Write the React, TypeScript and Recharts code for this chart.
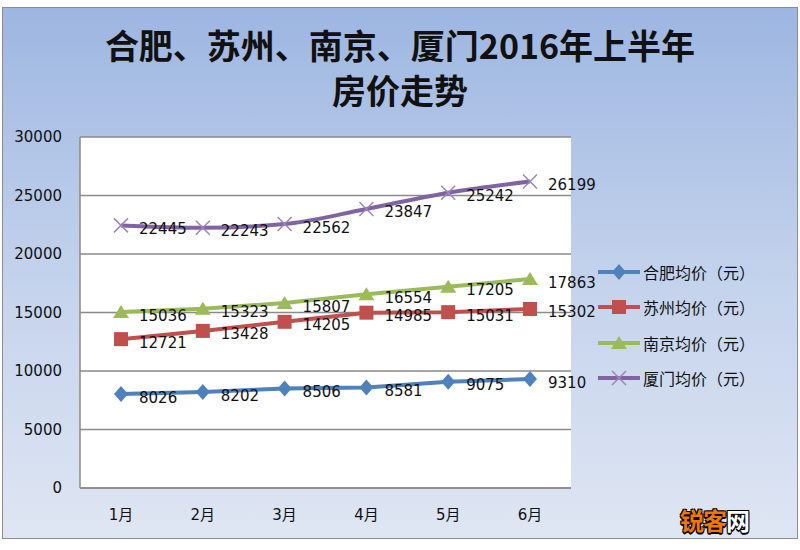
import { LineChart, Line, XAxis, YAxis, CartesianGrid, Legend, LabelList } from 'recharts';

// 2016 上半年房价（元/平方米）
const months = ['1月', '2月', '3月', '4月', '5月', '6月'];
const hefei = [8026, 8202, 8506, 8581, 9075, 9310];
const suzhou = [12721, 13428, 14205, 14985, 15031, 15302];
const nanjing = [15036, 15323, 15807, 16554, 17205, 17863];
const xiamen = [22445, 22243, 22562, 23847, 25242, 26199];
const seriesNames = ['合肥均价（元）', '苏州均价（元）', '南京均价（元）', '厦门均价（元）'];
const yTicks = [0, 5000, 10000, 15000, 20000, 25000, 30000];

const data = months.map((m, i) => ({
  month: m,
  hefei: hefei[i],
  suzhou: suzhou[i],
  nanjing: nanjing[i],
  xiamen: xiamen[i],
}));

const BLUE = '#4f81bd';
const RED = '#c0504d';
const GREEN = '#9bbb59';
const PURPLE = '#8064a2';

const numFont = '"DejaVu Sans", "Noto Sans CJK SC", sans-serif';
const cjkFont = '"Noto Sans CJK SC", "DejaVu Sans", sans-serif';

// marker shapes
const marker = (kind: string, cx: number, cy: number, key?: string) => {
  if (kind === 'diamond')
    return <path key={key} d={`M${cx},${cy - 8}L${cx + 7},${cy}L${cx},${cy + 8}L${cx - 7},${cy}Z`} fill={BLUE} />;
  if (kind === 'square')
    return <rect key={key} x={cx - 7} y={cy - 7} width={14} height={14} fill={RED} />;
  if (kind === 'triangle')
    return <path key={key} d={`M${cx},${cy - 7}L${cx + 8},${cy + 6}L${cx - 8},${cy + 6}Z`} fill={GREEN} />;
  return (
    <path
      key={key}
      d={`M${cx - 7},${cy - 7}L${cx + 7},${cy + 7}M${cx - 7},${cy + 7}L${cx + 7},${cy - 7}`}
      stroke="#9b86bd"
      strokeWidth={1.5}
      fill="none"
    />
  );
};

const dotOf = (kind: string) => (props: any) => marker(kind, props.cx, props.cy, `${kind}-${props.index}`);

const renderLabel = (props: any) => (
  <text
    x={Number(props.x) + 18}
    y={Number(props.y) + 4}
    fontSize={15}
    fontFamily={numFont}
    fill="#111"
    dominantBaseline="middle"
  >
    {props.value}
  </text>
);

const legendItems = [
  { name: seriesNames[0], color: BLUE, kind: 'diamond' },
  { name: seriesNames[1], color: RED, kind: 'square' },
  { name: seriesNames[2], color: GREEN, kind: 'triangle' },
  { name: seriesNames[3], color: PURPLE, kind: 'x' },
];

const renderLegend = () => (
  <div>
    {legendItems.map((it) => (
      <div key={it.name} style={{ display: 'flex', alignItems: 'center', height: 35.5 }}>
        <svg width={44} height={20}>
          <line x1={0} y1={10} x2={42} y2={10} stroke={it.color} strokeWidth={4} />
          {marker(it.kind, 21, 10)}
        </svg>
        <span style={{ fontFamily: cjkFont, fontSize: 16, color: '#111', marginLeft: 1 }}>{it.name}</span>
      </div>
    ))}
  </div>
);

export default function App() {
  return (
    <div style={{ position: 'absolute', left: 0, top: 0, width: 800, height: 550, background: '#fff' }}>
      <div
        style={{
          position: 'absolute',
          left: 2,
          top: 7,
          width: 794,
          height: 530,
          border: '1px solid #8c8c8c',
          background: 'linear-gradient(to bottom, #9db6e1 0%, #c3d2ec 50%, #dfe6f3 100%)',
        }}
      />
      <div
        style={{
          position: 'absolute',
          left: 0,
          top: 22,
          width: 800,
          textAlign: 'center',
          fontFamily: cjkFont,
          fontWeight: 700,
          fontSize: 34,
          lineHeight: '45px',
          color: '#111',
        }}
      >
        <div>合肥、苏州、南京、厦门2016年上半年</div>
        <div>房价走势</div>
      </div>
      <div style={{ position: 'absolute', left: 0, top: 0 }}>
        <LineChart width={800} height={550} data={data} margin={{ top: 137, right: 229, bottom: 32, left: 20 }}>
          <CartesianGrid vertical={false} stroke="#8a8a8a" strokeWidth={1.5} fill="#ffffff" fillOpacity={1} />
          <XAxis
            dataKey="month"
            height={30}
            padding={{ left: 41, right: 41 }}
            axisLine={{ stroke: '#8a8a8a', strokeWidth: 1.5 }}
            tickLine={false}
            tickMargin={15}
            tick={{ fontSize: 15, fontFamily: numFont, fill: '#111' }}
          />
          <YAxis
            width={60}
            domain={[0, 30000]}
            ticks={yTicks}
            interval={0}
            axisLine={{ stroke: '#8a8a8a', strokeWidth: 1.5 }}
            tickLine={false}
            tickMargin={12}
            tick={{ fontSize: 15, fontFamily: numFont, fill: '#111' }}
          />
          <Legend
            layout="horizontal"
            verticalAlign="middle"
            align="center"
            content={renderLegend}
            wrapperStyle={{ position: 'absolute', left: 598, top: 254, width: 190, height: 142 }}
          />
          <Line
            dataKey="hefei"
            name={seriesNames[0]}
            type="linear"
            stroke={BLUE}
            strokeWidth={4}
            dot={dotOf('diamond')}
            isAnimationActive={false}
          >
            <LabelList dataKey="hefei" content={renderLabel} />
          </Line>
          <Line
            dataKey="suzhou"
            name={seriesNames[1]}
            type="linear"
            stroke={RED}
            strokeWidth={4}
            dot={dotOf('square')}
            isAnimationActive={false}
          >
            <LabelList dataKey="suzhou" content={renderLabel} />
          </Line>
          <Line
            dataKey="nanjing"
            name={seriesNames[2]}
            type="linear"
            stroke={GREEN}
            strokeWidth={4}
            dot={dotOf('triangle')}
            isAnimationActive={false}
          >
            <LabelList dataKey="nanjing" content={renderLabel} />
          </Line>
          <Line
            dataKey="xiamen"
            name={seriesNames[3]}
            type="monotone"
            stroke={PURPLE}
            strokeWidth={4}
            dot={dotOf('x')}
            isAnimationActive={false}
          >
            <LabelList dataKey="xiamen" content={renderLabel} />
          </Line>
        </LineChart>
      </div>
      <div
        style={{
          position: 'absolute',
          left: 680,
          top: 502,
          fontFamily: cjkFont,
          fontWeight: 700,
          fontSize: 24,
          letterSpacing: -1,
          textShadow: '1px 1px 0 #000, -1px -1px 0 #000, 1px -1px 0 #000, -1px 1px 0 #000, 0 2px 0 #000',
        }}
      >
        <span style={{ color: '#f07800' }}>锐客</span>
        <span style={{ color: '#fff' }}>网</span>
      </div>
    </div>
  );
}
